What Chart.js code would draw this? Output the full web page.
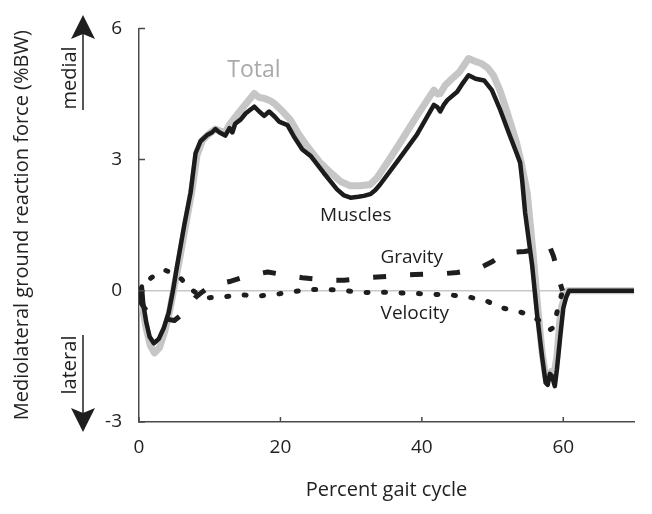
<!DOCTYPE html>
<html><head><meta charset="utf-8">
<script src="https://cdn.jsdelivr.net/npm/chart.js@4/dist/chart.umd.min.js"></script>
<style>html,body{margin:0;padding:0;background:#fff}#wrap{width:652px;height:514px}</style>
</head><body><div id="wrap"><canvas id="c" width="652" height="514"></canvas></div>
<script>
const xTicks = [0, 20, 40, 60];
const yTicks = [-3, 0, 3, 6];

const totalX = [0.0,0.4,1.0,1.6,2.2,2.9,3.6,4.3,5.0,5.6,6.6,7.5,8.2,9.0,10.0,10.8,11.5,12.2,12.8,13.5,14.5,15.5,16.3,17.0,17.7,18.5,19.1,20.2,21.4,22.5,23.8,25.5,27.1,28.5,29.9,31.3,32.7,33.7,35.3,36.9,39.3,41.7,42.2,42.6,43.3,44.0,45.3,46.6,47.5,48.5,49.3,50.1,51.0,51.8,52.6,53.4,54.1,54.9,55.7,56.4,57.0,57.5,57.9,58.3,58.7,59.1,59.5,59.8,60.2,60.6,70];
const totalY = [0.0,-0.3,-0.85,-1.25,-1.42,-1.3,-0.95,-0.5,0.1,0.6,1.5,2.3,3.1,3.45,3.6,3.7,3.65,3.62,3.8,3.95,4.15,4.35,4.51,4.42,4.40,4.35,4.29,4.12,3.91,3.6,3.30,2.95,2.70,2.5,2.40,2.40,2.43,2.59,2.98,3.38,4.0,4.59,4.5,4.51,4.7,4.81,5.0,5.31,5.25,5.19,5.1,4.93,4.6,4.21,3.8,3.38,2.9,2.24,0.9,-0.4,-1.4,-1.95,-2.0,-1.85,-1.9,-1.5,-0.7,-0.35,-0.15,0,0];

const musclesX = [0.0,0.2,0.4,0.6,1.0,1.5,2.1,2.8,3.5,4.2,4.8,5.4,6.4,7.3,8.0,8.7,9.7,10.3,10.8,11.4,12.2,12.8,13.2,13.6,14.4,15.1,16.3,17.0,17.7,18.4,19.2,19.8,21.0,21.9,23.1,24.3,26.1,28.0,29.0,29.9,31.0,31.8,32.7,33.4,34.1,36.9,39.3,41.7,42.2,42.6,43.1,43.6,45.0,45.8,46.6,47.6,48.8,49.9,51.1,52.3,53.2,53.9,54.2,54.6,55.6,56.3,57.0,57.5,57.8,58.1,58.4,58.8,59.1,59.6,60.0,60.4,60.8,70];
const musclesY = [0.05,-0.15,0.1,-0.3,-0.7,-1.05,-1.2,-1.1,-0.85,-0.5,0.0,0.58,1.5,2.25,3.15,3.42,3.57,3.62,3.7,3.62,3.55,3.72,3.62,3.82,3.92,4.06,4.21,4.1,4.0,4.1,3.98,3.87,3.79,3.53,3.23,3.08,2.7,2.32,2.18,2.13,2.15,2.17,2.21,2.3,2.43,3.04,3.57,4.25,4.2,4.1,4.25,4.36,4.55,4.75,4.93,4.85,4.81,4.59,4.13,3.61,3.23,2.93,2.5,1.79,0.58,-0.55,-1.5,-2.1,-2.15,-1.9,-1.95,-2.18,-1.8,-1.0,-0.4,-0.15,0,0];

const gravityX = [0.0,1.0,2.5,4.0,5.0,6.0,7.0,8.0,9.0,10.0,11.5,13.0,15.0,16.5,18.2,20.0,21.5,23.1,25.0,27.0,29.0,31.0,33.0,35.0,37.0,39.0,41.0,43.0,45.0,47.0,48.5,50.0,51.5,53.0,54.5,56.0,57.2,58.0,58.6,59.1,59.5,59.9];
const gravityY = [-0.2,-0.45,-0.6,-0.65,-0.68,-0.55,-0.35,-0.15,-0.02,0.1,0.17,0.22,0.32,0.38,0.43,0.38,0.34,0.30,0.27,0.24,0.24,0.27,0.31,0.33,0.36,0.37,0.38,0.39,0.42,0.48,0.55,0.67,0.84,0.88,0.9,0.93,1.0,1.04,0.8,0.5,0.2,0.0];

const velocityX = [0.0,0.8,1.6,2.6,3.7,4.8,5.8,6.7,7.5,8.5,9.6,12.0,14.4,16.9,19.4,21.8,24.3,26.8,29.2,31.8,34.1,36.7,39.1,41.7,44.2,46.6,49.1,51.3,53.4,55.2,56.8,58.1,58.5,58.9,59.4,59.9];
const velocityY = [0.0,0.2,0.28,0.4,0.47,0.4,0.3,0.15,0.02,-0.1,-0.16,-0.14,-0.09,-0.12,-0.08,-0.02,0.03,0.03,0.0,-0.04,-0.03,-0.05,-0.06,-0.08,-0.1,-0.14,-0.23,-0.39,-0.46,-0.55,-0.7,-0.89,-0.85,-0.63,-0.3,0.0];

const labelText = ['Total', 'Muscles', 'Gravity', 'Velocity'];
const labelX = [16.25, 30.66, 38.57, 39.0];
const labelY = [5.03, 1.72, 0.77, -0.52];

const FONT = "'Open Sans', 'DejaVu Sans', sans-serif";
function pts(xs, ys) { return xs.map((x, i) => ({x: x, y: ys[i]})); }

const decor = {
  id: 'decor',
  afterDraw(chart) {
    const ctx = chart.ctx;
    const xs = chart.scales.x, ys = chart.scales.y;
    const ca = chart.chartArea;
    ctx.save();
    ctx.strokeStyle = '#4a4a4a';
    ctx.lineWidth = 1.5;
    ctx.beginPath();
    xTicks.forEach(v => { const p = xs.getPixelForValue(v); ctx.moveTo(p, ca.bottom); ctx.lineTo(p, ca.bottom - 5); });
    yTicks.forEach(v => { const p = ys.getPixelForValue(v); ctx.moveTo(ca.left, p); ctx.lineTo(ca.left + 6, p); });
    ctx.stroke();
    ctx.textAlign = 'center';
    ctx.textBaseline = 'middle';
    labelText.forEach((t, i) => {
      ctx.fillStyle = i === 0 ? '#a9a9a9' : '#1e1e1e';
      ctx.font = (i === 0 ? '23px ' : '19px ') + FONT;
      ctx.fillText(t, xs.getPixelForValue(labelX[i]), ys.getPixelForValue(labelY[i]));
    });
    ctx.fillStyle = '#1e1e1e';
    ctx.strokeStyle = '#1e1e1e';
    ctx.lineWidth = 1.5;
    const ax = 83;
    ctx.beginPath(); ctx.moveTo(ax, 110); ctx.lineTo(ax, 30); ctx.stroke();
    ctx.beginPath(); ctx.moveTo(ax, 15); ctx.lineTo(ax - 12, 39); ctx.lineTo(ax, 34); ctx.lineTo(ax + 12, 39); ctx.closePath(); ctx.fill();
    ctx.beginPath(); ctx.moveTo(ax, 335); ctx.lineTo(ax, 416); ctx.stroke();
    ctx.beginPath(); ctx.moveTo(ax, 432); ctx.lineTo(ax - 12, 408); ctx.lineTo(ax, 413); ctx.lineTo(ax + 12, 408); ctx.closePath(); ctx.fill();
    ctx.font = '20px ' + FONT;
    ctx.save(); ctx.translate(70, 78); ctx.rotate(-Math.PI / 2); ctx.fillText('medial', 0, 0); ctx.restore();
    ctx.save(); ctx.translate(70, 365); ctx.rotate(-Math.PI / 2); ctx.fillText('lateral', 0, 0); ctx.restore();
    ctx.restore();
  }
};

new Chart(document.getElementById('c'), {
  type: 'line',
  data: {
    datasets: [
      {label: 'Velocity', data: pts(velocityX, velocityY), borderColor: '#1e1e1e', borderWidth: 5, borderDash: [2, 15.5], borderCapStyle: 'round', order: 0},
      {label: 'Gravity', data: pts(gravityX, gravityY), borderColor: '#1e1e1e', borderWidth: 5, borderDash: [13, 24], borderCapStyle: 'butt', order: 1},
      {label: 'Muscles', data: pts(musclesX, musclesY), borderColor: '#1c1c1c', borderWidth: 4.5, order: 2},
      {label: 'Total', data: pts(totalX, totalY), borderColor: '#c6c6c6', borderWidth: 7, order: 3}
    ]
  },
  options: {
    responsive: false,
    animation: false,
    elements: {point: {radius: 0}, line: {tension: 0, borderJoinStyle: 'round'}},
    layout: {padding: {left: 0, right: 18, top: 25, bottom: 0}},
    plugins: {legend: {display: false}, tooltip: {enabled: false}},
    scales: {
      x: {
        type: 'linear', min: 0, max: 70,
        afterBuildTicks: s => { s.ticks = xTicks.map(v => ({value: v})); },
        afterFit: s => { s.height = 92; },
        grid: {display: true, drawOnChartArea: false, drawTicks: false, color: 'rgba(0,0,0,0)'},
        border: {display: true, color: '#4a4a4a', width: 1.5},
        ticks: {padding: 14, color: '#222', font: {family: FONT, size: 19}, maxRotation: 0},
        title: {display: true, text: 'Percent gait cycle', color: '#222', font: {family: FONT, size: 20}, padding: {top: 0, bottom: 12}}
      },
      y: {
        type: 'linear', min: -3, max: 6,
        afterBuildTicks: s => { s.ticks = yTicks.map(v => ({value: v})); },
        afterFit: s => { s.width = 139; },
        grid: {display: true, drawTicks: false, color: c => (c.tick && c.tick.value === 0 ? '#c8c8c8' : 'rgba(0,0,0,0)'), lineWidth: 1.5},
        border: {display: true, color: '#4a4a4a', width: 1.5},
        ticks: {padding: 17, color: '#222', font: {family: FONT, size: 19}},
        title: {display: true, text: 'Mediolateral ground reaction force (%BW)', color: '#222', font: {family: FONT, size: 20}, padding: {top: 10, bottom: 0}}
      }
    }
  },
  plugins: [decor]
});
</script></body></html>
